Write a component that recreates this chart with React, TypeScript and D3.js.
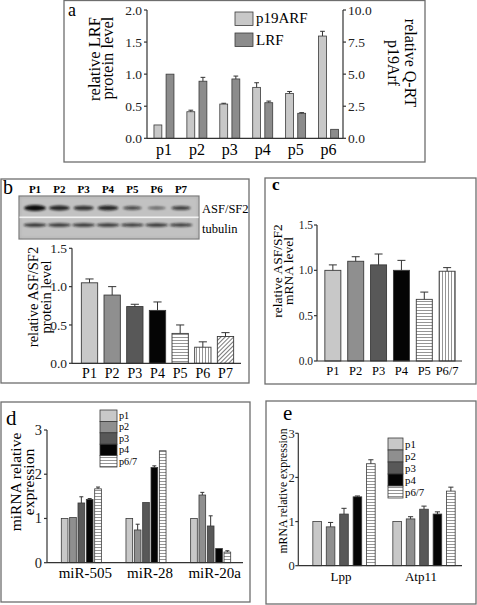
import React from 'react';
import * as d3 from 'd3';

// ---------- Panel a ----------
const groupsA = ['p1', 'p2', 'p3', 'p4', 'p5', 'p6'];
const seriesA = ['p19ARF', 'LRF'];
const p19arf = [1.04, 2.07, 2.67, 3.97, 3.5, 7.97]; // right axis (relative Q-RT)
const p19arfErr = [0, 0.12, 0.06, 0.36, 0.15, 0.37];
const lrf = [1.0, 0.89, 0.925, 0.555, 0.39, 0.14]; // left axis
const lrfErr = [0, 0.06, 0.045, 0.025, 0.01, 0];
const ticksALeft = [0, 0.5, 1.0, 1.5, 2.0];
const ticksARight = [0, 2.5, 5, 7.5, 10];

// ---------- Panel b ----------
const catsB = ['P1', 'P2', 'P3', 'P4', 'P5', 'P6', 'P7'];
const asfProtein = [1.05, 0.89, 0.74, 0.69, 0.39, 0.21, 0.35];
const asfProteinErr = [0.05, 0.11, 0.03, 0.11, 0.11, 0.07, 0.05];
const blotAsf = [1.0, 0.8, 0.7, 0.8, 0.5, 0.35, 0.6];
const blotTubulin = [0.75, 0.72, 0.72, 0.72, 0.68, 0.72, 0.68];
const ticksB = [0, 0.5, 1.0, 1.5];

// ---------- Panel c ----------
const catsC = ['P1', 'P2', 'P3', 'P4', 'P5', 'P6/7'];
const asfMrna = [1.0, 1.1, 1.06, 1.0, 0.68, 0.99];
const asfMrnaErr = [0.06, 0.05, 0.12, 0.11, 0.08, 0.04];
const ticksC = [0, 0.5, 1.0, 1.5];

// ---------- Panels d, e ----------
const seriesDE = ['p1', 'p2', 'p3', 'p4', 'p6/7'];
const mirs = ['miR-505', 'miR-28', 'miR-20a'];
const mirP1 = [1.0, 1.0, 1.0];
const mirP2 = [1.02, 0.74, 1.53];
const mirP3 = [1.35, 1.36, 0.83];
const mirP4 = [1.43, 2.15, 0.32];
const mirP67 = [1.67, 2.53, 0.24];
const mirP1Err = [0, 0, 0];
const mirP2Err = [0.01, 0.13, 0.06];
const mirP3Err = [0.14, 0.01, 0.23];
const mirP4Err = [0.02, 0.04, 0.01];
const mirP67Err = [0.04, 0.01, 0.03];

const genes = ['Lpp', 'Atp11'];
const geneP1 = [1.0, 1.0];
const geneP2 = [0.88, 1.06];
const geneP3 = [1.17, 1.28];
const geneP4 = [1.56, 1.17];
const geneP67 = [2.31, 1.69];
const geneP1Err = [0, 0];
const geneP2Err = [0.1, 0.05];
const geneP3Err = [0.13, 0.07];
const geneP4Err = [0.02, 0.05];
const geneP67Err = [0.09, 0.09];
const ticksDE = [0, 1, 2, 3];

const FONT = '"Liberation Serif", "Times New Roman", serif';
const BORDER = '#6e6e6e';
const AXIS = '#333';
const BAR_STROKE = '#3a3a3a';
const greyFills = ['#c8c8c8', '#8f8f8f', '#585858', '#050505'];

function ErrBar({ x, y0, y1, w }: { x: number; y0: number; y1: number; w: number }) {
  if (Math.abs(y0 - y1) < 0.5) return null;
  return (
    <g stroke="#333" strokeWidth={1}>
      <line x1={x} x2={x} y1={y0} y2={y1} />
      <line x1={x - w / 2} x2={x + w / 2} y1={y1} y2={y1} />
    </g>
  );
}

function YAxis({ x, scale, ticks, fmt, size, side = 'left', tick = 3, gap = 2 }: any) {
  const [r0, r1] = scale.range();
  const dir = side === 'left' ? -1 : 1;
  return (
    <g>
      <line x1={x} x2={x} y1={r0} y2={r1} stroke={AXIS} strokeWidth={1.2} />
      {ticks.map((t: number) => (
        <g key={t}>
          <line x1={x} x2={x + dir * tick} y1={scale(t)} y2={scale(t)} stroke={AXIS} strokeWidth={1.2} />
          <text
            x={x + dir * (tick + gap)}
            y={scale(t)}
            dy="0.34em"
            textAnchor={side === 'left' ? 'end' : 'start'}
            fontSize={size}
            fill="#222"
          >
            {fmt(t)}
          </text>
        </g>
      ))}
    </g>
  );
}

export default function App() {
  const f1 = d3.format('.1f');
  const f0 = d3.format('d');

  // Panel a scales
  const ax0 = d3.scaleBand().domain(groupsA).range([147.5, 345]);
  const ax1 = d3.scaleBand().domain(seriesA).range([-10, 10]).paddingInner(0.35);
  const ayL = d3.scaleLinear().domain([0, 2]).range([138.3, 10]);
  const ayR = d3.scaleLinear().domain([0, 10]).range([138.3, 10]);

  // Panel b scales
  const bx = d3.scaleBand().domain(catsB).range([75, 240]).padding(0.28);
  const by = d3.scaleLinear().domain([0, 1.5]).range([363.3, 248.3]);
  const lane = d3.scalePoint().domain(catsB).range([35, 181]);

  // Panel c scales
  const cx = d3.scaleBand().domain(catsC).range([318, 462]).padding(0.3);
  const cy = d3.scaleLinear().domain([0, 1.5]).range([361, 225]);

  // Panel d scales
  const dx0 = d3.scaleBand().domain(mirs).range([49, 243]);
  const dx1 = d3.scaleBand().domain(seriesDE).range([-21.7, 21.7]).padding(0.2);
  const dy = d3.scaleLinear().domain([0, 3]).range([562.7, 430]);
  const mirVals = [mirP1, mirP2, mirP3, mirP4, mirP67];
  const mirErrs = [mirP1Err, mirP2Err, mirP3Err, mirP4Err, mirP67Err];

  // Panel e scales
  const ex0 = d3.scaleBand().domain(genes).range([304, 464]);
  const ex1 = d3.scaleBand().domain(seriesDE).range([-36, 36]).padding(0.36);
  const ey = d3.scaleLinear().domain([0, 3]).range([565.7, 433.3]);
  const geneVals = [geneP1, geneP2, geneP3, geneP4, geneP67];
  const geneErrs = [geneP1Err, geneP2Err, geneP3Err, geneP4Err, geneP67Err];

  const deFills = [...greyFills, 'url(#hstripe)'];
  const bFills = [...greyFills, 'url(#hstripe)', 'url(#vstripe)', 'url(#dstripe)'];
  const cFills = [...greyFills, 'url(#hstripe)', 'url(#vstripe)'];

  return (
    <svg
      width={477}
      height={605}
      style={{ position: 'absolute', left: 0, top: 0, background: '#fff' }}
      fontFamily={FONT}
    >
      <defs>
        <pattern id="hstripe" width={4} height={3} patternUnits="userSpaceOnUse">
          <rect width={4} height={3} fill="#fff" />
          <line x1={0} x2={4} y1={1.5} y2={1.5} stroke="#7a7a7a" strokeWidth={0.8} />
        </pattern>
        <pattern id="vstripe" width={3} height={4} patternUnits="userSpaceOnUse">
          <rect width={3} height={4} fill="#fff" />
          <line x1={1.5} x2={1.5} y1={0} y2={4} stroke="#7a7a7a" strokeWidth={0.8} />
        </pattern>
        <pattern id="dstripe" width={3} height={3} patternUnits="userSpaceOnUse" patternTransform="rotate(45)">
          <rect width={3} height={3} fill="#fff" />
          <line x1={1.5} x2={1.5} y1={0} y2={3} stroke="#6a6a6a" strokeWidth={0.9} />
        </pattern>
        <filter id="blur" x="-50%" y="-100%" width="200%" height="300%">
          <feGaussianBlur stdDeviation="1.2 0.9" />
        </filter>
        <filter id="blur2" x="-10%" y="-10%" width="120%" height="120%">
          <feGaussianBlur stdDeviation="1.5" />
        </filter>
      </defs>

      {/* ================= Panel a ================= */}
      <rect x={64} y={0.5} width={361} height={161.5} fill="none" stroke={BORDER} strokeWidth={1.3} />
      <text x={68} y={16} fontSize={18}>a</text>
      {groupsA.map((g, i) => {
        const gx = ax0(g)! + ax0.bandwidth() / 2;
        const bw = ax1.bandwidth();
        const xa = gx + ax1('p19ARF')!;
        const xb = gx + ax1('LRF')!;
        return (
          <g key={g}>
            <rect x={xa} y={ayR(p19arf[i])} width={bw} height={ayR(0) - ayR(p19arf[i])} fill="#c8c8c8" stroke={BAR_STROKE} strokeWidth={0.8} />
            <ErrBar x={xa + bw / 2} y0={ayR(p19arf[i])} y1={ayR(p19arf[i] + p19arfErr[i])} w={bw * 0.6} />
            <rect x={xb} y={ayL(lrf[i])} width={bw} height={ayL(0) - ayL(lrf[i])} fill="#8c8c8c" stroke={BAR_STROKE} strokeWidth={0.8} />
            <ErrBar x={xb + bw / 2} y0={ayL(lrf[i])} y1={ayL(lrf[i] + lrfErr[i])} w={bw * 0.6} />
            <text x={gx} y={155} textAnchor="middle" fontSize={16}>{g}</text>
          </g>
        );
      })}
      <line x1={147} x2={343} y1={138.3} y2={138.3} stroke={AXIS} strokeWidth={1.2} />
      <YAxis x={147} scale={ayL} ticks={ticksALeft} fmt={f1} size={13.5} side="left" />
      <YAxis x={343} scale={ayR} ticks={ticksARight} fmt={f1} size={13.5} side="right" />
      <g transform="translate(100,59) rotate(-90)">
        <text textAnchor="middle" fontSize={16.5}>relative LRF</text>
      </g>
      <g transform="translate(113,58) rotate(-90)">
        <text textAnchor="middle" fontSize={16.5}>protein level</text>
      </g>
      <g transform="translate(405,63) rotate(90)">
        <text textAnchor="middle" fontSize={16}>relative Q-RT</text>
      </g>
      <g transform="translate(388,63) rotate(90)">
        <text textAnchor="middle" fontSize={16}>p19Arf</text>
      </g>
      {seriesA.map((s, i) => (
        <g key={s}>
          <rect x={235} y={12 + i * 21} width={18} height={13.5} fill={i === 0 ? '#c8c8c8' : '#8c8c8c'} stroke={BAR_STROKE} strokeWidth={0.8} />
          <text x={256} y={23 + i * 21.5} fontSize={15}>{s}</text>
        </g>
      ))}

      {/* ================= Panel b ================= */}
      <rect x={1} y={179} width={248} height={204} fill="none" stroke={BORDER} strokeWidth={1.3} />
      <text x={3} y={194} fontSize={20}>b</text>
      {catsB.map((c) => (
        <text key={c} x={lane(c)} y={193} textAnchor="middle" fontSize={11} fontWeight="bold">{c}</text>
      ))}
      <rect x={19} y={196} width={180} height={43} fill="#b8b8b8" stroke="#7a7a7a" strokeWidth={1.2} />
      <rect x={21} y={198} width={176} height={39} fill="#c2c2c2" filter="url(#blur2)" />
      <rect x={19.5} y={216.5} width={179} height={1.6} fill="#f2f2f2" />
      <g filter="url(#blur)">
        {catsB.map((c, i) => (
          <ellipse
            key={'a' + c}
            cx={lane(c)}
            cy={208}
            rx={8 + blotAsf[i] * 3}
            ry={0.8 + blotAsf[i] * 2.2}
            fill="#111"
            opacity={0.35 + blotAsf[i] * 0.65}
          />
        ))}
        {catsB.map((c, i) => (
          <ellipse
            key={'t' + c}
            cx={lane(c)}
            cy={225}
            rx={11.5}
            ry={0.6 + blotTubulin[i] * 1.6}
            fill="#151515"
            opacity={0.3 + blotTubulin[i] * 0.7}
          />
        ))}
      </g>
      <text x={202} y={213} fontSize={12.5}>ASF/SF2</text>
      <text x={202} y={233} fontSize={12.5}>tubulin</text>

      {catsB.map((c, i) => {
        const x = bx(c)!;
        const bw = bx.bandwidth();
        return (
          <g key={c}>
            <rect x={x} y={by(asfProtein[i])} width={bw} height={by(0) - by(asfProtein[i])} fill={bFills[i]} stroke={BAR_STROKE} strokeWidth={0.9} />
            <ErrBar x={x + bw / 2} y0={by(asfProtein[i])} y1={by(asfProtein[i] + asfProteinErr[i])} w={bw * 0.5} />
            <text x={x + bw / 2} y={378} textAnchor="middle" fontSize={14}>{c}</text>
          </g>
        );
      })}
      <line x1={72} x2={241} y1={by(0)} y2={by(0)} stroke={AXIS} strokeWidth={1.2} />
      <YAxis x={72} scale={by} ticks={ticksB} fmt={f1} size={13.5} side="left" />
      <g transform="translate(38,297) rotate(-90)">
        <text textAnchor="middle" fontSize={14.5}>relative ASF/SF2</text>
      </g>
      <g transform="translate(51,297) rotate(-90)">
        <text textAnchor="middle" fontSize={14.5}>protein level</text>
      </g>

      {/* ================= Panel c ================= */}
      <rect x={265} y={178} width={211} height={206} fill="none" stroke={BORDER} strokeWidth={1.3} />
      <text x={272} y={190} fontSize={17} fontWeight="bold">c</text>
      {catsC.map((c, i) => {
        const x = cx(c)!;
        const bw = cx.bandwidth();
        return (
          <g key={c}>
            <rect x={x} y={cy(asfMrna[i])} width={bw} height={cy(0) - cy(asfMrna[i])} fill={cFills[i]} stroke={BAR_STROKE} strokeWidth={0.9} />
            <ErrBar x={x + bw / 2} y0={cy(asfMrna[i])} y1={cy(asfMrna[i] + asfMrnaErr[i])} w={bw * 0.5} />
            <text x={x + bw / 2} y={375} textAnchor="middle" fontSize={12.5}>{c}</text>
          </g>
        );
      })}
      <line x1={317} x2={462} y1={cy(0)} y2={cy(0)} stroke={AXIS} strokeWidth={1.2} />
      <YAxis x={317} scale={cy} ticks={ticksC} fmt={f1} size={11.5} side="left" gap={1} />
      <g transform="translate(282,271) rotate(-90)">
        <text textAnchor="middle" fontSize={13.5}>relative ASF/SF2</text>
      </g>
      <g transform="translate(293,271) rotate(-90)">
        <text textAnchor="middle" fontSize={13.5}>mRNA level</text>
      </g>

      {/* ================= Panel d ================= */}
      <rect x={1} y={402} width={249} height={200} fill="none" stroke={BORDER} strokeWidth={1.3} />
      <text x={6} y={425} fontSize={21}>d</text>
      {mirs.map((m, gi) => {
        const gx = dx0(m)! + dx0.bandwidth() / 2;
        return (
          <g key={m}>
            {seriesDE.map((s, si) => {
              const x = gx + dx1(s)!;
              const bw = dx1.bandwidth();
              const v = mirVals[si][gi];
              return (
                <g key={s}>
                  <rect x={x} y={dy(v)} width={bw} height={dy(0) - dy(v)} fill={deFills[si]} stroke={BAR_STROKE} strokeWidth={0.8} />
                  <ErrBar x={x + bw / 2} y0={dy(v)} y1={dy(v + mirErrs[si][gi])} w={bw * 0.6} />
                </g>
              );
            })}
            <text x={gx + 4} y={578} textAnchor="middle" fontSize={15}>{m}</text>
          </g>
        );
      })}
      <line x1={47} x2={243} y1={dy(0)} y2={dy(0)} stroke={AXIS} strokeWidth={1.2} />
      <YAxis x={47} scale={dy} ticks={ticksDE} fmt={f0} size={14.5} side="left" />
      <g transform="translate(21,482) rotate(-90)">
        <text textAnchor="middle" fontSize={15.5}>miRNA relative</text>
      </g>
      <g transform="translate(34,482) rotate(-90)">
        <text textAnchor="middle" fontSize={15.5}>expression</text>
      </g>
      {seriesDE.map((s, i) => (
        <g key={s}>
          <rect x={100} y={410 + i * 11.4} width={17} height={11.4} fill={deFills[i]} stroke={BAR_STROKE} strokeWidth={0.8} />
          <text x={119} y={419 + i * 11.4} fontSize={10.2}>{s}</text>
        </g>
      ))}

      {/* ================= Panel e ================= */}
      <rect x={266} y={401} width={210} height={203} fill="none" stroke={BORDER} strokeWidth={1.3} />
      <text x={283} y={420} fontSize={21}>e</text>
      {genes.map((g, gi) => {
        const gx = ex0(g)! + ex0.bandwidth() / 2;
        return (
          <g key={g}>
            {seriesDE.map((s, si) => {
              const x = gx + ex1(s)!;
              const bw = ex1.bandwidth();
              const v = geneVals[si][gi];
              return (
                <g key={s}>
                  <rect x={x} y={ey(v)} width={bw} height={ey(0) - ey(v)} fill={deFills[si]} stroke={BAR_STROKE} strokeWidth={0.8} />
                  <ErrBar x={x + bw / 2} y0={ey(v)} y1={ey(v + geneErrs[si][gi])} w={bw * 0.6} />
                </g>
              );
            })}
            <text x={gx - 3} y={581} textAnchor="middle" fontSize={13}>{g}</text>
          </g>
        );
      })}
      <line x1={298.3} x2={462} y1={ey(0)} y2={ey(0)} stroke={AXIS} strokeWidth={1.2} />
      <YAxis x={298.3} scale={ey} ticks={ticksDE} fmt={f0} size={12.5} side="left" gap={0.5} />
      <g transform="translate(287,491) rotate(-90)">
        <text textAnchor="middle" fontSize={11.8}>mRNA relative expression</text>
      </g>
      {seriesDE.map((s, i) => (
        <g key={s}>
          <rect x={388} y={438 + i * 12} width={15} height={12} fill={deFills[i]} stroke={BAR_STROKE} strokeWidth={0.8} />
          <text x={405} y={447.5 + i * 12} fontSize={10.8}>{s}</text>
        </g>
      ))}
    </svg>
  );
}
